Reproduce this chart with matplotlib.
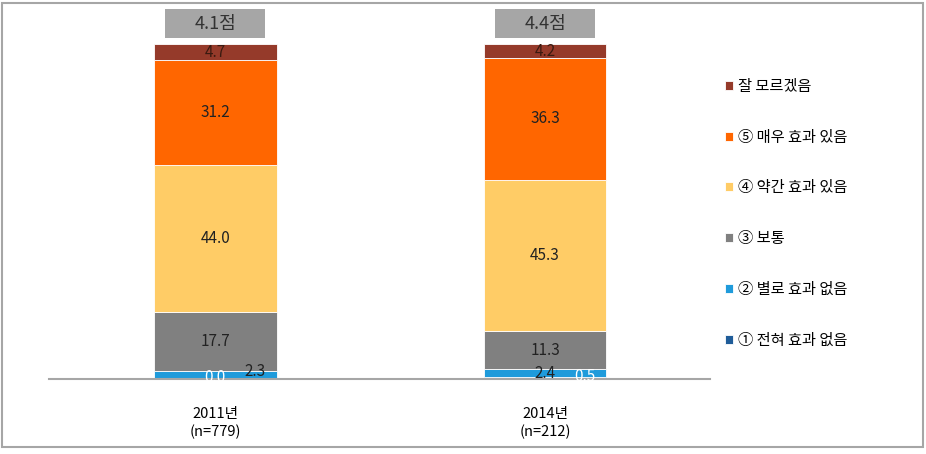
import matplotlib
matplotlib.use('Agg')
import matplotlib.pyplot as plt
from matplotlib.patches import Rectangle

plt.rcParams['font.family'] = ['Noto Sans CJK KR', 'DejaVu Sans']

# 데이터
years = ['2011년\n(n=779)', '2014년\n(n=212)']
scores = ['4.1점', '4.4점']
categories = ['① 전혀 효과 없음', '② 별로 효과 없음', '③ 보통',
              '④ 약간 효과 있음', '⑤ 매우 효과 있음', '잘 모르겠음']
values = [
    [0.0, 0.5],
    [2.3, 2.4],
    [17.7, 11.3],
    [44.0, 45.3],
    [31.2, 36.3],
    [4.7, 4.2],
]
colors = ['#1F5C99', '#1F9BDB', '#808080', '#FFCC66', '#FF6600', '#953A2A']

W, H = 926, 454
fig = plt.figure(figsize=(W / 100, H / 100), dpi=100)
# 바깥 테두리
fig.patches.append(Rectangle((2 / W, 1 - 447 / H), 921 / W, 444 / H,
                             transform=fig.transFigure, fill=False,
                             edgecolor='#A6A6A6', linewidth=1.5))

ax = fig.add_axes([49 / W, 1 - 379 / H, (710 - 49) / W, (379 - 44) / H])
x = [0, 1]
width = 0.372
bottom = [0.0, 0.0]
for i, cat in enumerate(categories):
    ax.bar(x, values[i], width, bottom=bottom, color=colors[i],
           edgecolor='white', linewidth=0.6, label=cat)
    bottom = [b + v for b, v in zip(bottom, values[i])]

# 값 라벨
fs = 11
for j in range(2):
    base = 0.0
    for i in range(6):
        v = values[i][j]
        mid = base + v / 2
        if i == 0:
            if j == 0:
                ax.text(x[j], base + 0.3, '%.1f' % v, ha='center', va='center',
                        color='white', fontsize=fs)
            else:
                ax.text(x[j] + 0.12, base + 0.6, '%.1f' % v, ha='center',
                        va='center', color='white', fontsize=fs)
        elif i == 1:
            if j == 0:
                ax.text(x[j] + 0.12, base + 2.2, '%.1f' % v, ha='center',
                        va='center', color='#222222', fontsize=fs)
            else:
                ax.text(x[j], mid - 0.2, '%.1f' % v, ha='center', va='center',
                        color='#222222', fontsize=fs)
        elif i == 5:
            ax.text(x[j], mid, '%.1f' % v, ha='center', va='center',
                    color='#3A1A10', fontsize=fs)
        else:
            ax.text(x[j], mid, '%.1f' % v, ha='center', va='center',
                    color='#222222', fontsize=fs)
        base += v

ax.set_xlim(-0.504, 1.5)
ax.set_ylim(0, 100)
for s in ['top', 'right', 'left']:
    ax.spines[s].set_visible(False)
ax.spines['bottom'].set_color('#A6A6A6')
ax.spines['bottom'].set_linewidth(1.5)
ax.set_yticks([])
ax.set_xticks(x)
ax.set_xticklabels(years, fontsize=10.5, linespacing=1.35)
ax.tick_params(axis='x', length=0, pad=20)

# 평균 점수 박스
bw, by0, by1 = 0.3026, 101.8, 110.4
for j in range(2):
    ax.add_patch(Rectangle((x[j] - bw / 2, by0), bw, by1 - by0,
                           facecolor='#A6A6A6', edgecolor='none',
                           clip_on=False))
    ax.text(x[j], (by0 + by1) / 2, scores[j], ha='center', va='center',
            fontsize=13, color='#333333', clip_on=False)

# 범례
handles, labels = ax.get_legend_handles_labels()
fig.legend(handles[::-1], labels[::-1], loc='upper left',
           bbox_to_anchor=(711 / W, 1 - 64 / H), frameon=False,
           fontsize=11, handlelength=0.55, handleheight=0.55,
           handletextpad=0.3, labelspacing=2.21)

fig.savefig('out.png', dpi=100)
